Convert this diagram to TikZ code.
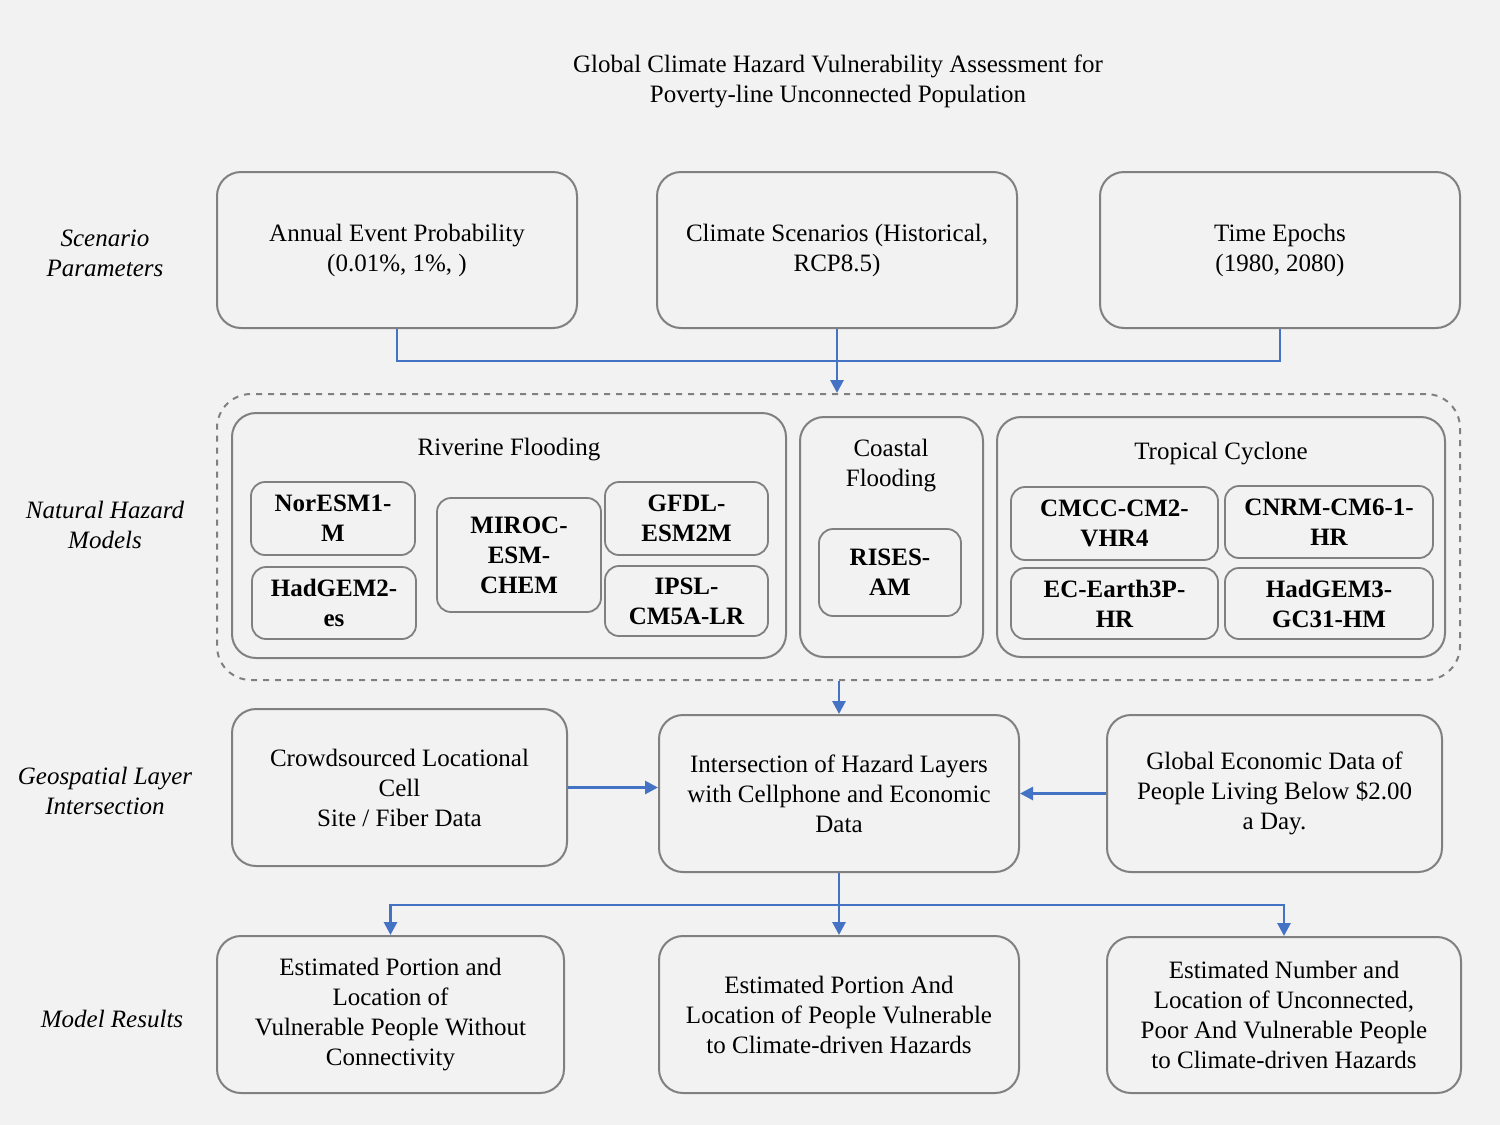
\documentclass[tikz,border=0pt]{standalone}
\usepackage{fontspec}
\setmainfont{Liberation Serif}
\usepackage{tikz}
\usetikzlibrary{arrows.meta, positioning, calc}
\definecolor{pagebg}{RGB}{242, 242, 242}
\definecolor{boxline}{RGB}{128, 128, 128}
\definecolor{linkblue}{RGB}{68, 114, 196}

\tikzset{
  box/.style={draw=boxline, line width=1pt, rounded corners=12pt, align=center, inner sep=0pt},
  modelbox/.style={draw=boxline, line width=0.9pt, rounded corners=7pt, align=center, inner sep=0pt, font=\fontsize{12.5}{15}\selectfont\bfseries},
  rowlabel/.style={align=center, font=\fontsize{12.5}{15}\selectfont\itshape},
  link/.style={draw=linkblue, line width=1.4pt},
  arrowlink/.style={link, -{Triangle[length=6.5pt, width=6.5pt]}}
}

\begin{document}
\begin{tikzpicture}[x=0.5pt, y=-0.5pt, font=\fontsize{12.5}{15}\selectfont]
        % Page
        \fill[pagebg] (0,0) rectangle (1500,1125);
        \useasboundingbox (0,0) rectangle (1500,1125);

        % Title
        \node[align=center] (title) at (838,81) {Global Climate Hazard Vulnerability Assessment for\\Poverty-line Unconnected Population};

        % Row labels
        \node[rowlabel] (lblscen) at (105,253) {Scenario\\Parameters};
        \node[rowlabel] (lblhaz) at (105,525) {Natural Hazard\\Models};
        \node[rowlabel] (lblgeo) at (105,791) {Geospatial Layer\\Intersection};
        \node[rowlabel] (lblres) at (112,1019) {Model Results};

        % Scenario parameters
        \node[box, minimum width=180pt, minimum height=78pt] (annual) at (397,250) {Annual Event Probability\\(0.01\%, 1\%, )};
        \node[box, minimum width=180pt, minimum height=78pt] (scen) at (837,250) {Climate Scenarios (Historical,\\RCP8.5)};
        \node[box, minimum width=180pt, minimum height=78pt] (epochs) at (1280,250) {Time Epochs\\(1980, 2080)};

        % Hazard models
        \node[box, dashed, rounded corners=17pt, minimum width=621.5pt, minimum height=143pt] (hazard) at (838.5,537) {};

        \node[box, minimum width=277pt, minimum height=122.5pt] (river) at (509,535.5) {};
        \node (rivertitle) at (509,450) {Riverine Flooding};
        \node[modelbox, minimum width=82pt, minimum height=36.5pt] (noresm) at (333,518.5) {NorESM1-\\M};
        \node[modelbox, minimum width=82pt, minimum height=36pt] (hadgemtwo) at (334,603) {HadGEM2-\\es};
        \node[modelbox, minimum width=82pt, minimum height=57pt] (miroc) at (519,555) {MIROC-\\ESM-\\CHEM};
        \node[modelbox, minimum width=81.5pt, minimum height=36.5pt] (gfdl) at (686.5,518.5) {GFDL-\\ESM2M};
        \node[modelbox, minimum width=81.5pt, minimum height=35pt] (ipsl) at (686.5,601) {IPSL-\\CM5A-LR};

        \node[box, minimum width=91.5pt, minimum height=120pt] (coast) at (891.5,537) {};
        \node[align=center] (coasttitle) at (891,466) {Coastal\\Flooding};
        \node[modelbox, minimum width=71pt, minimum height=43.5pt] (rises) at (890,572.5) {RISES-\\AM};

        \node[box, minimum width=224pt, minimum height=120pt] (cyclone) at (1221,537) {};
        \node (cyclonetitle) at (1221,454) {Tropical Cyclone};
        \node[modelbox, minimum width=103.5pt, minimum height=36.5pt] (cmcc) at (1114.5,523.5) {CMCC-CM2-\\VHR4};
        \node[modelbox, minimum width=104pt, minimum height=36pt] (cnrm) at (1329,522) {CNRM-CM6-1-\\HR};
        \node[modelbox, minimum width=103.5pt, minimum height=35.5pt] (ecearth) at (1114.5,603.5) {EC-Earth3P-\\HR};
        \node[modelbox, minimum width=104pt, minimum height=35.5pt] (hadgemthree) at (1329,603.5) {HadGEM3-\\GC31-HM};

        % Geospatial layer intersection
        \node[box, minimum width=167.5pt, minimum height=78.5pt] (crowd) at (399.5,787.5) {Crowdsourced Locational\\Cell\\Site / Fiber Data};
        \node[box, minimum width=180pt, minimum height=78.5pt] (inter) at (839,793.5) {Intersection of Hazard Layers\\with Cellphone and Economic\\Data};
        \node[box, minimum width=167.5pt, minimum height=78.5pt] (econ) at (1274.5,793.5) {Global Economic Data of\\People Living Below \$2.00\\a Day.};

        % Model results
        \node[box, minimum width=173.5pt, minimum height=78.5pt] (resa) at (390.5,1014.5) {Estimated Portion and\\Location of\\Vulnerable People Without\\Connectivity};
        \node[box, minimum width=180pt, minimum height=78.5pt] (resb) at (839,1014.5) {Estimated Portion And\\Location of People Vulnerable\\to Climate-driven Hazards};
        \node[box, minimum width=177pt, minimum height=78pt] (resc) at (1284,1015) {Estimated Number and\\Location of Unconnected,\\Poor And Vulnerable People\\to Climate-driven Hazards};

        % Connectors
        \coordinate (merge) at (837,361);
        \draw[link] (annual.south) |- (merge) -| (epochs.south);
        \draw[arrowlink] (scen.south) -- (scen.south |- hazard.north);
        \draw[arrowlink] (inter.north |- hazard.south) -- (inter.north);
        \draw[arrowlink] (crowd.east) -- (crowd.east -| inter.west);
        \draw[arrowlink] (econ.west) -- (inter.east);

        \coordinate (split) at (839,905);
        \draw[link] (inter.south) -- (split);
        \draw[arrowlink] (split) -| (resa.north);
        \draw[arrowlink] (split) -| (resc.north);
        \draw[arrowlink] (split) -- (resb.north);
      \end{tikzpicture}
\end{document}
